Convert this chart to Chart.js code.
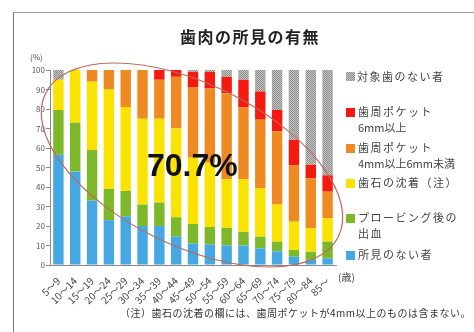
<!DOCTYPE html>
<html lang="ja">
<head>
<meta charset="utf-8">
<script src="https://cdn.jsdelivr.net/npm/chart.js@4.4.1/dist/chart.umd.min.js"></script>
<style>
  html, body { margin: 0; padding: 0; background: #fff; }
  body { width: 474px; height: 332px; position: relative; overflow: hidden; font-family: "Noto Sans CJK JP", sans-serif; color: #333; }
  #frame { position: absolute; left: 13px; top: 12px; right: -2px; bottom: -2px; border-left: 1px solid #777; border-top: 1px solid #999; }
  canvas { position: absolute; left: 0; top: 0; }
  .txt { position: absolute; white-space: nowrap; }
  #title { left: 180px; top: 28px; font-size: 16px; line-height: 16px; font-weight: bold; letter-spacing: 1.5px; color: #222; }
  #unit { left: 30px; top: 52px; font-size: 8px; line-height: 10px; color: #555; }
  #age { left: 338px; top: 270px; font-size: 10px; line-height: 14px; color: #444; }
  #note { left: 120px; top: 305px; font-size: 10px; line-height: 15px; letter-spacing: 0.5px; color: #333; }
  #big { left: 147px; top: 149px; font-family: "Liberation Sans", Arial, sans-serif; font-size: 32px; line-height: 32px; font-weight: bold; color: #111; }
  .lg-box { position: absolute; width: 9px; height: 9px; }
  .lg-line { position: absolute; left: 358px; font-size: 11px; line-height: 15px; letter-spacing: 1.5px; color: #444; white-space: nowrap; }
  .lg-line.latin { letter-spacing: 0; }
</style>
</head>
<body>
<div id="frame"></div>
<canvas id="c" width="474" height="332"></canvas>
<div class="txt" id="title">歯肉の所見の有無</div>
<div class="txt" id="unit">(%)</div>
<div class="txt" id="age">(歳)</div>
<div class="txt" id="big">70.7%</div>
<div class="txt" id="note">（注）歯石の沈着の欄には、歯周ポケットが4mm以上のものは含まない。</div>
<div id="legend"></div>
<script>
  const ages = ["5～9", "10～14", "15～19", "20～24", "25～29", "30～34", "35～39", "40～44", "45～49",
    "50～54", "55～59", "60～64", "65～69", "70～74", "75～79", "80～84", "85～"];

  // bottom to top of each stack
  const noFinding = [56.5, 48, 33, 23, 25, 20, 20, 14.5, 11, 10.5, 10, 10, 8.5, 7, 4.3, 2.6, 3.4];
  const bleeding  = [23, 25, 26, 16, 13, 11, 12, 10, 10, 9, 9, 7, 6, 5, 3.4, 4.2, 8.6];
  const calculus  = [15.5, 27, 35, 51, 43, 44, 43, 45.5, 34, 33, 25, 27, 25, 19, 14.5, 12, 12];
  const pocket4   = [0, 0, 6, 10, 19, 25, 20, 26.5, 36, 38, 44, 37, 35, 37.5, 29, 25.6, 13.6];
  const pocket6   = [0, 0, 0, 0, 0, 0, 5, 3.5, 8, 8.5, 8.5, 14, 14.5, 11, 13, 7, 8.4];
  const noTeeth   = [5, 0, 0, 0, 0, 0, 0, 0, 1, 1, 3.5, 5, 11, 20.5, 35.8, 48.6, 54];

  const seriesNames = ["所見のない者", "プロービング後の\n出血", "歯石の沈着（注）",
    "歯周ポケット\n4mm以上6mm未満", "歯周ポケット\n6mm以上", "対象歯のない者"];
  const seriesData = [noFinding, bleeding, calculus, pocket4, pocket6, noTeeth];
  const colors = ["#45a8e2", "#7cb829", "#fae300", "#ef8a22", "#f41a10", null];

  // gray checker pattern for "no teeth"
  function grayPattern() {
    const p = document.createElement("canvas");
    p.width = 2; p.height = 2;
    const g = p.getContext("2d");
    g.fillStyle = "#c4c4c4"; g.fillRect(0, 0, 2, 2);
    g.fillStyle = "#8e8e8e"; g.fillRect(0, 0, 1, 1); g.fillRect(1, 1, 1, 1);
    return g.createPattern(p, "repeat");
  }
  const ctx = document.getElementById("c").getContext("2d");
  colors[5] = grayPattern();

  // legend layout: centre y of first line for each series
  const legendY = [255, 218, 183, 148, 112, 76.5];
  const legendEl = document.getElementById("legend");
  seriesNames.forEach((name, i) => {
    const cy = legendY[i];
    const box = document.createElement("div");
    box.className = "lg-box";
    box.style.left = "346px";
    box.style.top = (cy - 4.5) + "px";
    box.style.background = i === 5
      ? "repeating-conic-gradient(#8e8e8e 0 25%, #c4c4c4 0 50%) 0 0/2px 2px"
      : colors[i];
    legendEl.appendChild(box);
    name.split("\n").forEach((line, j) => {
      const t = document.createElement("div");
      t.className = /[0-9a-z]/.test(line) ? "lg-line latin" : "lg-line";
      t.textContent = line;
      t.style.top = (cy - 8 + j * 15.5) + "px";
      if (i === 5) t.style.left = "357px";
      legendEl.appendChild(t);
    });
  });

  const ellipsePlugin = {
    id: "ellipse",
    afterDatasetsDraw(chart) {
      const c = chart.ctx;
      c.save();
      c.strokeStyle = "#bd6a5c";
      c.lineWidth = 1.2;
      c.beginPath();
      c.ellipse(192, 165, 163, 81, 26 * Math.PI / 180, 0, Math.PI * 2);
      c.stroke();
      c.restore();
    }
  };

  Chart.defaults.font.family = "'Noto Sans CJK JP', sans-serif";

  new Chart(ctx, {
    type: "bar",
    data: {
      labels: ages,
      datasets: seriesData.map((d, i) => ({
        label: seriesNames[i].replace("\n", ""),
        data: d,
        backgroundColor: colors[i],
        borderWidth: 0,
        barPercentage: 0.62,
        categoryPercentage: 1
      }))
    },
    options: {
      responsive: false,
      animation: false,
      layout: { padding: { left: 24, right: 138, top: 70, bottom: 27 } },
      plugins: { legend: { display: false }, tooltip: { enabled: false }, title: { display: false } },
      scales: {
        x: {
          stacked: true,
          grid: { display: false },
          border: { display: true, color: "#888" },
          ticks: { autoSkip: false, maxRotation: 45, minRotation: 45, padding: 2, color: "#444", font: { size: 10 } },
          afterFit: (s) => { s.height = 40; }
        },
        y: {
          stacked: true,
          min: 0, max: 100,
          grid: { drawOnChartArea: false, tickLength: 4, color: "#888" },
          border: { display: true, color: "#888" },
          ticks: { stepSize: 10, padding: 1, color: "#555", font: { size: 8 } },
          afterFit: (s) => { s.width = 26; }
        }
      }
    },
    plugins: [ellipsePlugin]
  });
</script>
</body>
</html>
